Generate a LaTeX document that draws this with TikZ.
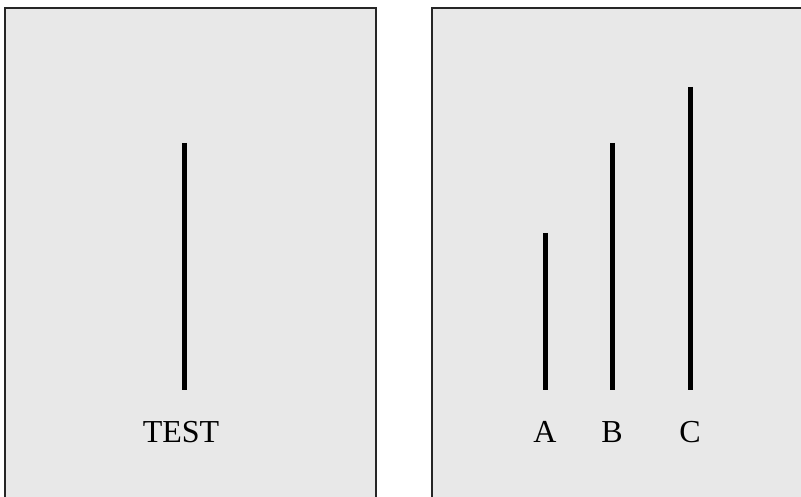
\documentclass[tikz,border=0pt]{standalone}
\usepackage{fontspec}
\setmainfont{Liberation Serif}
\usetikzlibrary{positioning}
\definecolor{panelgray}{HTML}{E8E8E8}

\begin{document}
\begin{tikzpicture}[x=1pt,y=-1pt,
    panel/.style={fill=panelgray,draw=black!85,line width=1.3pt},
    bar/.style={line width=5pt},
    lbl/.style={font=\fontsize{32}{34}\selectfont,inner sep=0pt}]
  \useasboundingbox (0,0) rectangle (801,497);
  \clip (0,0) rectangle (801,497);
  \draw[panel] (5,8) rectangle (376,520);
  \draw[panel] (432,8) rectangle (820,520);
  % test line
  \draw[bar] (184,143) -- (184,390);
  \node[lbl] (test) at (181,432) {TEST};
  % comparison lines
  \foreach \name/\x/\top in {A/545/233,B/612/143,C/690/87} {
    \draw[bar] (\x,\top) -- (\x,390);
    \node[lbl] (\name) at (\x,432) {\name};
  }
\end{tikzpicture}
\end{document}
